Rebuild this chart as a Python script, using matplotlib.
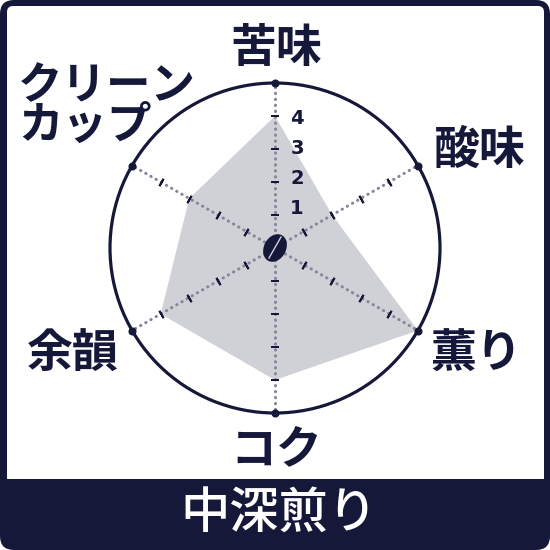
import numpy as np
import matplotlib
matplotlib.use("Agg")
import matplotlib.pyplot as plt
from matplotlib.patches import Ellipse, FancyBboxPatch

plt.rcParams['font.family'] = ['Noto Sans CJK JP', 'DejaVu Sans']

# --- data ---
categories = ['苦味', '酸味', '薫り', 'コク', '余韻', 'クリーン\nカップ']
values = [4, 2, 5, 4, 4, 3]
r_ticks = [1, 2, 3, 4]
r_max = 5
roast = '中深煎り'

NAVY = '#16183a'
GREY = '#d0d1d6'
DOT = '#85869a'

fig = plt.figure(figsize=(5.5, 5.5), dpi=100)

# pixel canvas for the frame (y pointing down like the picture)
bg = fig.add_axes([0, 0, 1, 1])
bg.set_xlim(0, 550)
bg.set_ylim(550, 0)
bg.axis('off')

bg.add_patch(FancyBboxPatch((0, 0), 550, 550, boxstyle='round,pad=0,rounding_size=14',
                            fc=NAVY, ec='none', zorder=1))
bg.add_patch(FancyBboxPatch((7, 6), 537, 473, boxstyle='round,pad=0,rounding_size=6',
                            fc='white', ec='none', zorder=2))
bg.add_patch(plt.Rectangle((7, 460), 537, 19, fc='white', ec='none', zorder=2))

# radar on polar axes: centre (275, 248), radius 165 px
cx, cy, R = 275, 248, 165
ax = fig.add_axes([(cx - R) / 550, 1 - (cy + R) / 550, 2 * R / 550, 2 * R / 550],
                  projection='polar', zorder=3)
ax.patch.set_alpha(0)
ax.set_theta_zero_location('N')
ax.set_theta_direction(-1)
ax.set_ylim(0, r_max)
ax.set_xticks([])
ax.set_yticks([])
ax.grid(False)
ax.spines['polar'].set_color(NAVY)
ax.spines['polar'].set_linewidth(2.3)

theta = np.deg2rad(np.arange(len(categories)) * 60)

# filled profile
ax.fill(theta, values, color=GREY, lw=0, zorder=1)

for i, t in enumerate(theta):
    # dotted spoke
    ax.plot([t, t], [0, r_max], color=DOT, lw=2.2, ls=(0, (0.1, 1.85)),
            dash_capstyle='round', zorder=2)
    # little cross ticks, perpendicular to the spoke
    tick_marks, = ax.plot([t] * len(r_ticks), r_ticks, ls='none', marker=(2, 2, 90 - i * 60),
                          ms=6, mew=1.4, color=NAVY, zorder=3)
    tick_marks.set_snap(False)
    # end dot on the rim
    ax.plot([t], [r_max], 'o', ms=4.8, color=NAVY, clip_on=False, zorder=4)

# overlay for bean and texts
over = fig.add_axes([0, 0, 1, 1], zorder=4)
over.set_xlim(0, 550)
over.set_ylim(550, 0)
over.axis('off')

# scale numbers next to the top spoke
for r, y in zip(r_ticks, [209, 179, 149, 118]):
    over.text(297, y, str(r), fontsize=14, fontweight='bold', family='DejaVu Sans',
              color=NAVY, ha='center', va='center')

# coffee bean in the middle
over.add_patch(Ellipse((cx, cy), 22, 29, angle=28, fc=NAVY, ec='none'))
over.plot([269, 281], [258, 237], color=GREY, lw=1.0)

# axis labels
label_pos = [(276, 49), (480, 151), (476, 355), (276, 450), (73, 355)]
for name, (x, y) in zip(categories, label_pos):
    over.text(x, y, name, fontsize=33, fontweight='bold', color=NAVY, ha='center', va='center')
over.text(18, 106, categories[5], fontsize=32, fontweight='bold', color=NAVY,
          ha='left', va='center', linespacing=0.85)

# roast level band
over.text(279, 515, roast, fontsize=35.5, fontweight='medium', color='white', ha='center', va='center')

fig.savefig('out.png', dpi=100, facecolor='white')
